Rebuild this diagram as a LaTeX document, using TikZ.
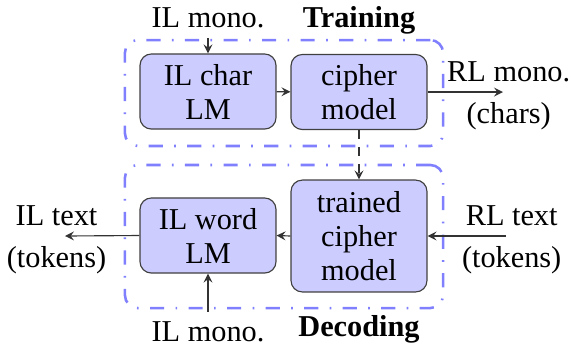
\documentclass[tikz,border=0pt]{standalone}
\usepackage{fontspec}
\setmainfont{Liberation Serif}
\usetikzlibrary{arrows,positioning}
\tikzstyle{block}  = [draw=black!75, fill=blue!20, rounded corners=4pt, minimum width=48pt, align=center, inner sep=0pt]
\tikzstyle{group}  = [draw=blue!50, line width=0.9pt, dash pattern=on 5pt off 4pt on 0.6pt off 4pt, rounded corners=4.5pt, inner sep=0pt]
\tikzstyle{arrow}  = [->,>=stealth, black!80]

\begin{document}
\begin{tikzpicture}[x=0.353pt,y=-0.353pt,font=\fontsize{10.7}{12}\selectfont]
    \useasboundingbox (0,0) rectangle (571,349);

    % groups
    \node[group, minimum width=112.3pt, minimum height=37.4pt] (train) at (284,93) {};
    \node[group, minimum width=112.3pt, minimum height=50.5pt] (decode) at (284,236.5) {};

    % blocks
    \node[block, minimum height=26.5pt] (charlm) at (208,91.5) {IL char\\LM};
    \node[block, minimum height=26.5pt] (cipher) at (359,92) {cipher\\model};
    \node[block, minimum height=39.5pt] (trained) at (359,236) {trained\\cipher\\model};
    \node[block, minimum height=26.5pt] (wordlm) at (208,235.5) {IL word\\LM};

    % labels
    \node (monotop) at (208,18) {IL mono.};
    \node[font=\fontsize{10.7}{12}\selectfont\bfseries] (trainlbl) at (359,20) {Training};
    \node (monobot) at (208,332) {IL mono.};
    \node[font=\fontsize{10.7}{12}\selectfont\bfseries] (decodelbl) at (359,329) {Decoding};

    \coordinate (rlout) at (503,92);
    \node[above=0pt of rlout, xshift=2pt] (rlmono) {RL mono.};
    \node[below=0pt of rlout, xshift=2pt] (rlchars) {(chars)};

    \coordinate (rlin) at (506,236);
    \node[above=0pt of rlin, xshift=2pt] (rltext) {RL text};
    \node[below=0pt of rlin, xshift=2pt] (rltok) {(tokens)};

    \coordinate (ilout) at (65,236);
    \node[above=0pt of ilout, xshift=-3pt] (iltext) {IL text};
    \node[below=0pt of ilout, xshift=-3pt] (iltok) {(tokens)};

    % arrows
    \draw[arrow] (monotop.south) -- (charlm.north);
    \draw[arrow] (charlm) -- (cipher);
    \draw[arrow] (cipher.east) -- (rlout);
    \draw[arrow, dashed] (cipher.south) -- (trained.north);
    \draw[arrow] (rlin) -- (trained.east);
    \draw[arrow] (trained.west) -- (wordlm.east);
    \draw[arrow] (wordlm.west) -- (ilout);
    \draw[arrow] (monobot.north) -- (wordlm.south);
\end{tikzpicture}
\end{document}
